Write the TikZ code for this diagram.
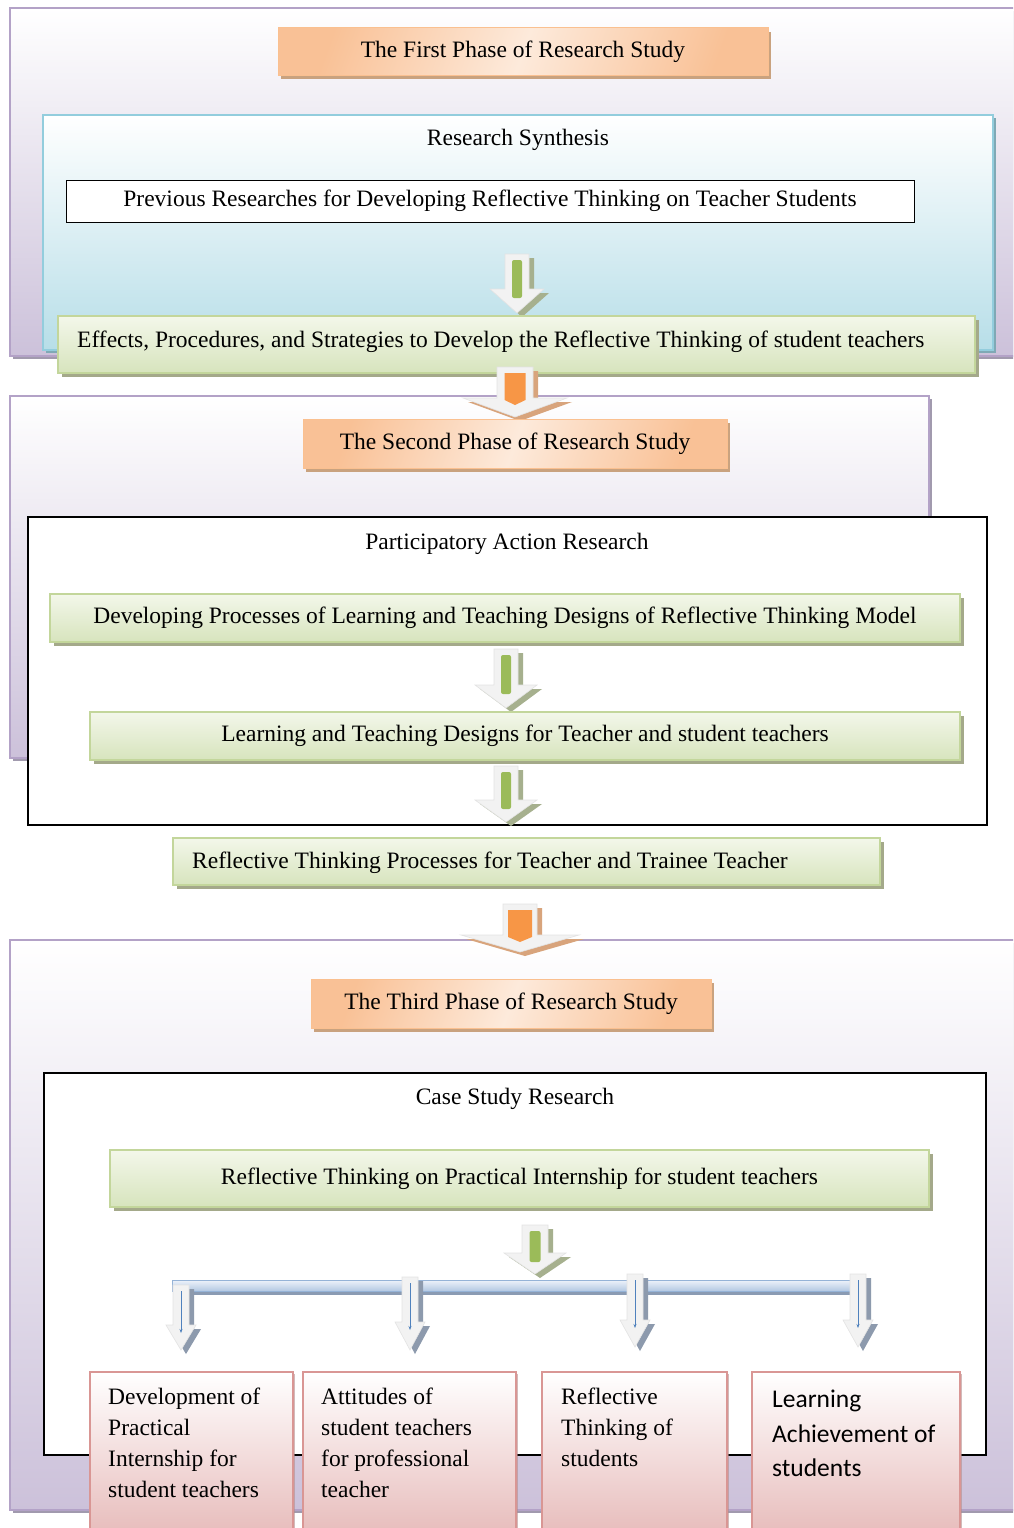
\documentclass[tikz,border=0pt]{standalone}
\usepackage{fontspec}
\setmainfont{Liberation Serif}
\newfontfamily\calibrifont{Carlito}
\usetikzlibrary{shadows,arrows.meta}
\definecolor{purpleB}{HTML}{B3A2C7}
\definecolor{purpleF}{HTML}{CCC1DA}
\definecolor{shadowP}{HTML}{A19AAE}
\definecolor{orangeB}{HTML}{FAC090}
\definecolor{orangeA}{HTML}{F9C196}
\definecolor{orangeL}{HTML}{FDEADB}
\definecolor{shadowO}{HTML}{C9A27F}
\definecolor{blueB}{HTML}{93CDDD}
\definecolor{blueF}{HTML}{B7DEE8}
\definecolor{shadowB}{HTML}{7FA9B5}
\definecolor{greenB}{HTML}{C3D69B}
\definecolor{greenT}{HTML}{F3F7EA}
\definecolor{greenF}{HTML}{D7E4BD}
\definecolor{shadowG}{HTML}{A4A98A}
\definecolor{pinkB}{HTML}{D99694}
\definecolor{pinkF}{HTML}{E6B9B8}
\definecolor{arrbody}{HTML}{F2F2F2}
\definecolor{arredge}{HTML}{E3E3E3}
\definecolor{arrShG}{HTML}{A6B08E}
\definecolor{arrShO}{HTML}{D8A47C}
\definecolor{arrShB}{HTML}{8D9AAD}
\definecolor{greenI}{HTML}{9BBB59}
\definecolor{orangeI}{HTML}{F79646}
\definecolor{blueI}{HTML}{4F81BD}
\definecolor{barT}{HTML}{EEF3FA}
\definecolor{barF}{HTML}{B3C8E3}
\definecolor{barB}{HTML}{95B3D7}
\definecolor{barS}{HTML}{8A9BB3}

\tikzset{
  box/.style={anchor=north west, inner sep=0, outer sep=0},
  phasebox/.style={box, draw=purpleB, line width=1.5, top color=white, bottom color=purpleF,
    drop shadow={shadow xshift=3pt, shadow yshift=-3pt, fill=shadowP, opacity=1}},
  headbox/.style={box, draw=orangeB, line width=1, top color=orangeA, bottom color=orangeA, middle color=orangeL, shading angle=70,
    drop shadow={shadow xshift=3pt, shadow yshift=-4pt, fill=shadowO, opacity=1}},
  synthbox/.style={box, draw=blueB, line width=1.5, top color=white, bottom color=blueF,
    drop shadow={shadow xshift=3pt, shadow yshift=-3pt, fill=shadowB, opacity=1}},
  plainbox/.style={box, draw=black, line width=1.2, fill=white},
  greenbox/.style={box, draw=greenB, line width=1.5, top color=greenT, bottom color=greenF,
    drop shadow={shadow xshift=4pt, shadow yshift=-4pt, fill=shadowG, opacity=1}},
  pinkbox/.style={box, draw=pinkB, line width=1.5, top color=white, bottom color=pinkF,
    drop shadow={shadow xshift=2pt, shadow yshift=-2pt, fill=pinkB!60!gray, opacity=0.6}},
  label/.style={inner sep=0},
  boxtext/.style={inner sep=0, anchor=north west, align=left},
}

% green block arrow: cx top headtop tip shafthalf headhalf innerhalf
\newcommand\greenarr[7]{%
  \fill[arrShG] ({#1-#5+5},{#2+4}) -- ({#1+#5+5},{#2+4}) -- ({#1+#5+5},{#3+4}) -- ({#1+#6+5},{#3+4}) -- ({#1+5},{#4+4}) -- ({#1-#6+5},{#3+4}) -- ({#1-#5+5},{#3+4}) -- cycle;
  \filldraw[fill=arrbody, draw=arredge, line width=0.6] ({#1-#5},#2) -- ({#1+#5},#2) -- ({#1+#5},#3) -- ({#1+#6},#3) -- (#1,#4) -- ({#1-#6},#3) -- ({#1-#5},#3) -- cycle;
  \fill[greenI, rounded corners=2] ({#1-#7},{#2+6}) rectangle ({#1+#7},{#3+9});
}
% orange block arrow
\newcommand\orangearr[7]{%
  \fill[arrShO] ({#1-#5+5},{#2+4}) -- ({#1+#5+5},{#2+4}) -- ({#1+#5+5},{#3+4}) -- ({#1+#6+5},{#3+4}) -- ({#1+5},{#4+4}) -- ({#1-#6+5},{#3+4}) -- ({#1-#5+5},{#3+4}) -- cycle;
  \filldraw[fill=arrbody, draw=arredge, line width=0.6] ({#1-#5},#2) -- ({#1+#5},#2) -- ({#1+#5},#3) -- ({#1+#6},#3) -- (#1,#4) -- ({#1-#6},#3) -- ({#1-#5},#3) -- cycle;
  \fill[orangeI] ({#1-#7},{#2+6}) -- ({#1+#7},{#2+6}) -- ({#1+#7},{#3+2}) -- (#1,{#3+7}) -- ({#1-#7},{#3+2}) -- cycle;
}
% small blue arrow: cx top headtop tip
\newcommand\smallarr[4]{%
  \fill[arrShB] ({#1-8+5},{#2+4}) -- ({#1+8+5},{#2+4}) -- ({#1+8+5},{#3+4}) -- ({#1+15+5},{#3+4}) -- ({#1+5},{#4+4}) -- ({#1-15+5},{#3+4}) -- ({#1-8+5},{#3+4}) -- cycle;
  \filldraw[fill=arrbody, draw=arredge, line width=0.6] ({#1-8},#2) -- ({#1+8},#2) -- ({#1+8},#3) -- ({#1+15},#3) -- (#1,#4) -- ({#1-15},#3) -- ({#1-8},#3) -- cycle;
  \draw[blueI, line width=0.9, -{Stealth[length=4pt,width=3pt]}] (#1,{#2+6}) -- (#1,{#3+8});
}

\begin{document}
\begin{tikzpicture}[x=1pt, y=-1pt, font=\fontsize{23.5}{31}\selectfont]
\useasboundingbox (0,0) rectangle (1013,1528);
\clip (0,0) rectangle (1013,1528);
\fill[white] (0,0) rectangle (1013,1528);

% ---------- Phase 1 ----------
\node[phasebox, minimum width=1010, minimum height=348] (p1) at (10,8) {};
\node[headbox, minimum width=490, minimum height=47] (h1) at (278,28) {The First Phase of Research Study};
\node[synthbox, minimum width=950, minimum height=235] (rs) at (43,115) {};
\node[label] (rst) at (518,140) {Research Synthesis};
\node[plainbox, line width=1, minimum width=848, minimum height=42] (prev) at (66,180) {Previous Researches for Developing Reflective Thinking on Teacher Students};
\greenarr{517}{254}{289}{313}{12}{27}{5}
\node[greenbox, minimum width=917, minimum height=57] (eff) at (58,316) {};
\node[label, anchor=west] (efft) at (77,342) {Effects, Procedures, and Strategies to Develop the Reflective Thinking of student teachers};

% ---------- Phase 2 ----------
\node[phasebox, minimum width=919, minimum height=362] (p2) at (10,396) {};
\orangearr{515}{367}{398}{417}{18}{52}{10.5}
\node[headbox, minimum width=424, minimum height=49] (h2) at (303,419) {The Second Phase of Research Study};
\node[plainbox, minimum width=959, minimum height=308] (par) at (28,517) {};
\node[label] (part) at (507,544) {Participatory Action Research};
\node[greenbox, minimum width=910, minimum height=48] (dev) at (50,594) {Developing Processes of Learning and Teaching Designs of Reflective Thinking Model};
\greenarr{506}{649}{685}{708}{12}{31}{5}
\node[greenbox, minimum width=870, minimum height=48] (ltd) at (90,712) {Learning and Teaching Designs for Teacher and student teachers};
\greenarr{506}{766}{800}{822}{12}{31}{5}
\node[greenbox, minimum width=707, minimum height=47] (rtp) at (173,838) {};
\node[label, anchor=west] (rtpt) at (192,863) {Reflective Thinking Processes for Teacher and Trainee Teacher};

% ---------- Phase 3 ----------
\node[phasebox, minimum width=1010, minimum height=570] (p3) at (10,940) {};
\orangearr{520}{904}{935}{952}{17}{59}{12}
\node[headbox, minimum width=400, minimum height=49] (h3) at (311,979) {The Third Phase of Research Study};
\node[plainbox, minimum width=942, minimum height=382] (csr) at (44,1073) {};
\node[label] (csrt) at (515,1099) {Case Study Research};
\node[greenbox, minimum width=819, minimum height=57] (rtpi) at (110,1150) {Reflective Thinking on Practical Internship for student teachers};
\greenarr{535}{1225}{1253}{1274}{13}{31}{5.5}

% distribution bar
\fill[barS] (176,1284) rectangle (870,1295);
\filldraw[draw=barB, line width=1, top color=barT, bottom color=barF] (172,1280) rectangle (866,1291);
\smallarr{181}{1285}{1325}{1350}
\smallarr{410}{1277}{1322}{1350}
\smallarr{635}{1274}{1320}{1347}
\smallarr{858}{1274}{1320}{1347}

% result boxes
\node[pinkbox, minimum width=203, minimum height=170] (b1) at (90,1372) {};
\node[pinkbox, minimum width=213, minimum height=170] (b2) at (303,1372) {};
\node[pinkbox, minimum width=185, minimum height=170] (b3) at (542,1372) {};
\node[pinkbox, minimum width=208, minimum height=170] (b4) at (752,1372) {};
\node[boxtext] (b1t) at (108,1388) {Development of\\Practical\\Internship for\\student teachers};
\node[boxtext] (b2t) at (321,1388) {Attitudes of\\student teachers\\for professional\\teacher};
\node[boxtext] (b3t) at (561,1388) {Reflective\\Thinking of\\students};
\node[boxtext, font=\calibrifont\fontsize{25.5}{34.5}\selectfont] (b4t) at (772,1390) {Learning\\Achievement of\\students};
\end{tikzpicture}
\end{document}
